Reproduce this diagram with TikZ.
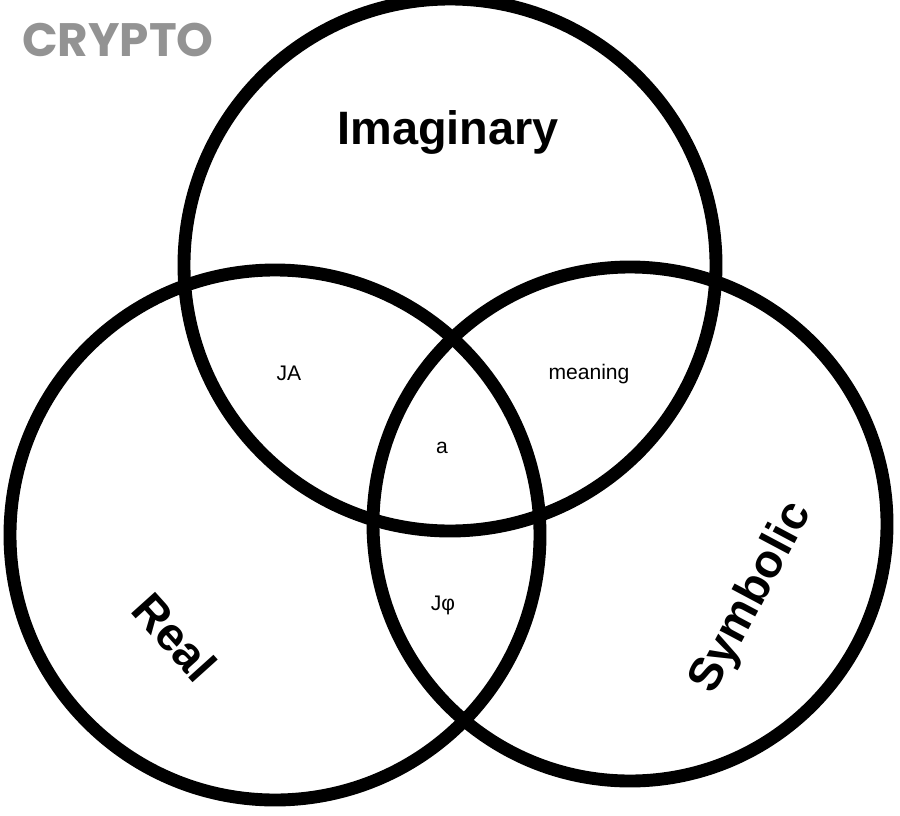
\documentclass[tikz,border=0pt]{standalone}
\usepackage{fontspec}
\setmainfont{Liberation Sans}
\newfontfamily\logofont{Poppins}
\begin{document}
\begin{tikzpicture}[x=0.03cm,y=-0.03cm]
		\tikzset{ring/.style={line width=11pt},
			big/.style={font=\fontsize{40}{44}\selectfont\bfseries},
			small/.style={font=\fontsize{18}{21}\selectfont}}
		%%Location
		\useasboundingbox (0,0) rectangle (900,815);
		%%Circles
		\draw[ring] (450,265) circle (266);
		\draw[ring] (275,535) circle (265);
		\draw[ring] (630,524) circle (257);
		%%Labels
		\node[font=\logofont\fontsize{40}{44}\selectfont\bfseries, text=gray!85] (logo) at (118,40) {CRYPTO};
		\node[big] (imag) at (448,132) {Imaginary};
		\node[big, rotate=-48] (real) at (175,637) {Real};
		\node[big, rotate=62] (symb) at (752,598) {Symbolic};
		\node[small] (ja) at (289,373) {JA};
		\node[small] (mean) at (589,374) {meaning};
		\node[small] (a) at (442,448) {a};
		\node[small] (jphi) at (443,605) {Jφ};
\end{tikzpicture}
\end{document}
